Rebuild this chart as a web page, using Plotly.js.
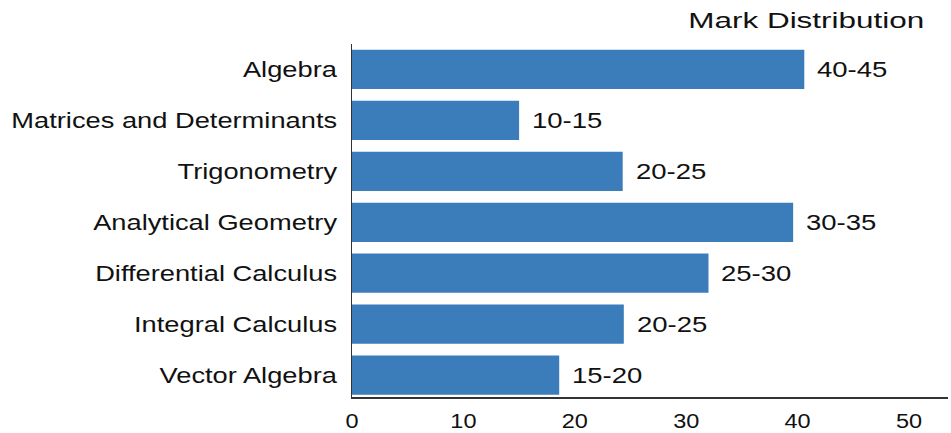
<!DOCTYPE html>
<html>
<head>
<meta charset="utf-8">
<script src="https://cdn.plot.ly/plotly-3.0.1.min.js"></script>
<style>html,body{margin:0;padding:0;background:#fff}#chart{width:951px;height:433px}</style>
</head>
<body>
<div id="chart"></div>
<script>
var topics = ["Algebra", "Matrices and Determinants", "Trigonometry", "Analytical Geometry", "Differential Calculus", "Integral Calculus", "Vector Algebra"];
var marks = [40.6, 15.0, 24.3, 39.6, 32.0, 24.4, 18.6];
var markRanges = ["40-45", "10-15", "20-25", "30-35", "25-30", "20-25", "15-20"];
var xTicks = [0, 10, 20, 30, 40, 50];

var font = "Liberation Sans, Arial, Helvetica, sans-serif";

var trace = {
  type: "bar",
  orientation: "h",
  x: marks,
  y: topics,
  marker: {color: "#3b7dbb", line: {width: 0}},
  width: 0.77,
  hoverinfo: "none"
};

var annotations = topics.map(function (t, i) {
  return {
    x: marks[i], y: t, xref: "x", yref: "y",
    text: markRanges[i], showarrow: false,
    xanchor: "left", yanchor: "middle", xshift: 11,
    font: {family: font, size: 22, color: "#111"}
  };
});

var layout = {
  width: 951, height: 433,
  margin: {l: 352, r: 3, t: 44, b: 36},
  paper_bgcolor: "#fff", plot_bgcolor: "#fff",
  showlegend: false,
  font: {family: font, color: "#111"},
  title: {
    text: "Mark Distribution",
    x: 913 / 951, xanchor: "right", xref: "paper",
    y: 1 - 20 / 433, yanchor: "middle", yref: "container",
    font: {family: font, size: 22, color: "#111"}
  },
  xaxis: {
    range: [0, 53.5],
    tickvals: xTicks,
    ticktext: xTicks.map(String),
    showgrid: false, zeroline: false,
    showline: true, linecolor: "#333", linewidth: 1.5,
    ticks: "", ticklabelstandoff: 4,
    tickfont: {family: font, size: 21, color: "#111"},
    fixedrange: true
  },
  yaxis: {
    type: "category",
    categoryorder: "array", categoryarray: topics,
    range: [6.43, -0.5],
    showgrid: false, zeroline: false,
    showline: true, linecolor: "#333", linewidth: 1.5,
    ticks: "", ticklabelstandoff: 9,
    tickfont: {family: font, size: 22, color: "#111"},
    fixedrange: true
  },
  annotations: annotations
};

function stretch(selector, s, anchor) {
  document.querySelectorAll(selector).forEach(function (el) {
    var bb = el.getBBox();
    var ax = anchor === "right" ? bb.x + bb.width : (anchor === "left" ? bb.x : bb.x + bb.width / 2);
    var t = el.getAttribute("transform") || "";
    el.setAttribute("transform", t + " translate(" + ax + ",0) scale(" + s + ",1) translate(" + (-ax) + ",0)");
  });
}

Plotly.newPlot("chart", [trace], layout, {staticPlot: true, displayModeBar: false}).then(function () {
  stretch("#chart .ytick text", 1.24, "right");
  stretch("#chart .xtick text", 1.12, "middle");
  stretch("#chart .annotation-text", 1.25, "left");
  stretch("#chart .gtitle", 1.43, "right");
});
</script>
</body>
</html>
